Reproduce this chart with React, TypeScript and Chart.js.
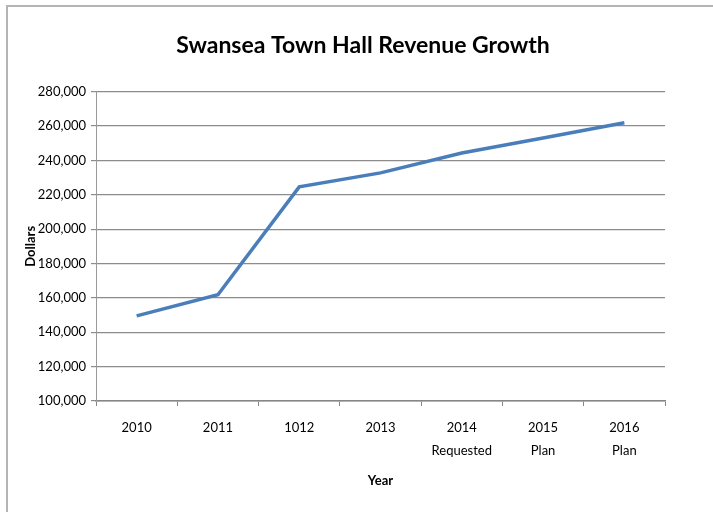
import React, { useEffect, useRef } from "react";
import { Chart, registerables } from "chart.js";

Chart.register(...registerables);

const categories: (string | string[])[] = [
  "2010",
  "2011",
  "1012",
  "2013",
  ["2014", "Requested"],
  ["2015", "Plan"],
  ["2016", "Plan"],
];
const revenue: number[] = [149500, 161800, 224600, 232700, 244300, 253000, 261900];
const yMin = 100000;
const yMax = 280000;
const yStep = 20000;
const titleText = "Swansea Town Hall Revenue Growth";
const xTitle = "Year";
const yTitle = "Dollars";

const FONT = "Lato, 'Open Sans', sans-serif";

const centerTitle = {
  id: "centerTitle",
  afterLayout(chart: any) {
    const t = chart.titleBlock;
    if (t) {
      t.left = 0;
      t.right = 726;
      t.width = 726;
    }
  },
};

export default function App() {
  const ref = useRef<HTMLCanvasElement | null>(null);
  useEffect(() => {
    document.body.style.margin = "0";
    const ctx = ref.current!.getContext("2d")!;
    const chart = new Chart(ctx, {
      type: "line",
      data: {
        labels: categories,
        datasets: [
          {
            data: revenue,
            borderColor: "#4a7ebb",
            borderWidth: 3.5,
            pointRadius: 0,
            tension: 0,
            fill: false,
          },
        ],
      },
      plugins: [centerTitle],
      options: {
        animation: false,
        responsive: false,
        layout: { padding: { left: 0, right: 48, top: 0, bottom: 0 } },
        plugins: {
          legend: { display: false },
          tooltip: { enabled: false },
          title: {
            display: true,
            text: titleText,
            color: "#000",
            font: { family: FONT, size: 23, weight: "bold", lineHeight: 1.2 },
            padding: { top: 32, bottom: 32 },
          },
        },
        scales: {
          x: {
            offset: true,
            afterFit: (s: any) => {
              s.height = 111;
            },
            grid: {
              offset: true,
              drawOnChartArea: false,
              drawTicks: true,
              tickLength: 5,
              color: "#868686",
            },
            border: { color: "#868686", width: 1.5 },
            ticks: {
              color: "#000",
              font: { family: FONT, size: 13, lineHeight: 1.8 },
              padding: 10,
              maxRotation: 0,
              autoSkip: false,
            },
            title: {
              display: true,
              text: xTitle,
              color: "#000",
              font: { family: FONT, size: 13, weight: "bold" },
              padding: { top: 0, bottom: 23 },
            },
          },
          y: {
            min: yMin,
            max: yMax,
            afterFit: (s: any) => {
              s.width = 96;
            },
            ticks: {
              stepSize: yStep,
              color: "#000",
              font: { family: FONT, size: 13 },
              padding: 5,
              callback: (v: any) => Number(v).toLocaleString("en-US"),
            },
            grid: {
              color: "#8c8c8c",
              lineWidth: 1.2,
              tickLength: 5,
            },
            border: { color: "#9a9a9a", width: 1 },
            title: {
              display: true,
              text: yTitle,
              color: "#000",
              font: { family: FONT, size: 13, weight: "bold" },
              padding: { top: 23, bottom: 0 },
            },
          },
        },
      },
    });
    return () => chart.destroy();
  }, []);
  return (
    <div style={{ position: "relative", width: 713, height: 512, background: "#fff", overflow: "hidden" }}>
      <canvas ref={ref} width={713} height={512} style={{ position: "absolute", left: 0, top: 0 }} />
      <div
        style={{
          position: "absolute",
          left: 6,
          top: 5,
          width: 713,
          height: 520,
          borderTop: "2px solid #b4b4b4",
          borderLeft: "2px solid #b4b4b4",
          pointerEvents: "none",
        }}
      />
    </div>
  );
}
